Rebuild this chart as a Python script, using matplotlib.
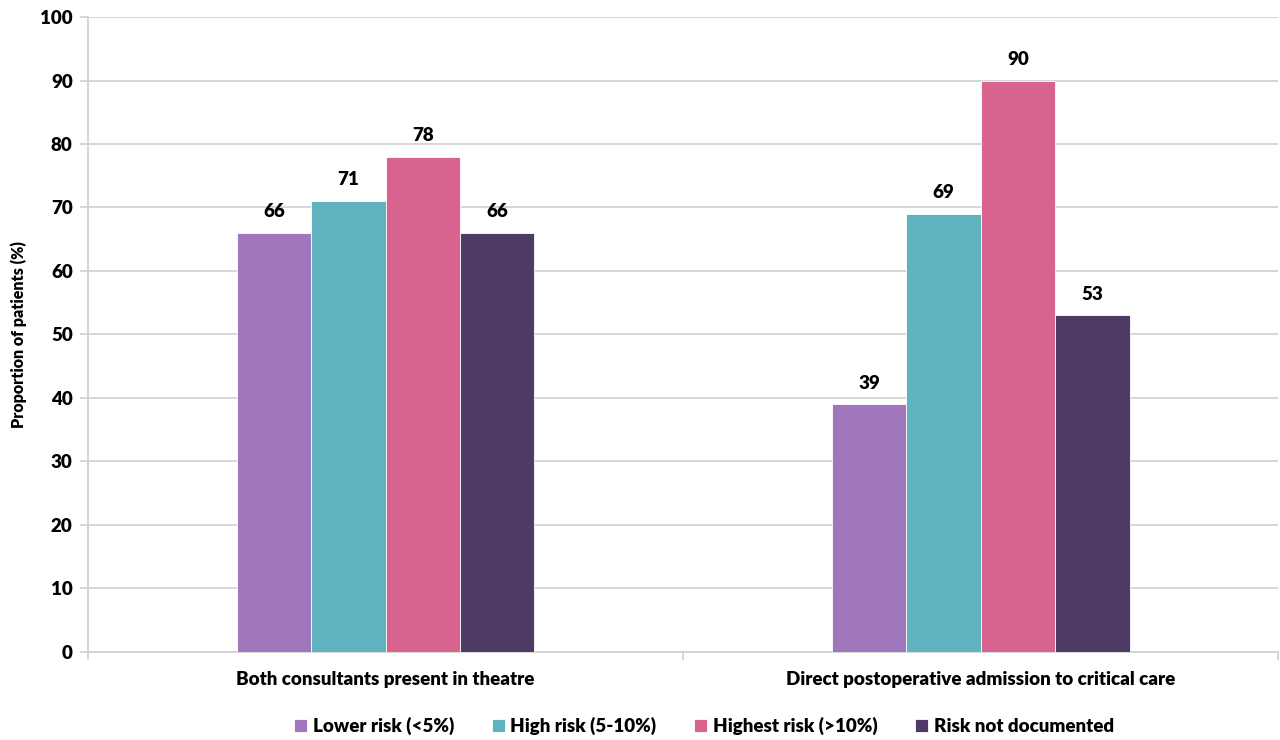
import numpy as np
from matplotlib import pyplot as plt

categories = ['Both consultants present in theatre',
              'Direct postoperative admission to critical care']
series_names = ['Lower risk (<5%)', 'High risk (5-10%)',
                'Highest risk (>10%)', 'Risk not documented']
lower_risk = [66, 39]
high_risk = [71, 69]
highest_risk = [78, 90]
not_documented = [66, 53]

COLORS = ['#a077bd', '#61b2bf', '#d7638e', '#4e3b65']
GRID = '#d0d0d0'

plt.rcParams.update({'font.family': ['Lato', 'DejaVu Sans'],
                     'font.weight': 'heavy'})

fig = plt.figure(figsize=(12.8, 7.4), dpi=100)
ax = fig.add_axes([0.06875, 0.119, 0.93, 0.858])

x = np.arange(len(categories))
width = 0.125
series = [lower_risk, high_risk, highest_risk, not_documented]
for i, vals in enumerate(series):
    pos = x + (i - 1.5) * width
    bars = ax.bar(pos, vals, width, color=COLORS[i], edgecolor='white',
                  linewidth=0.6, label=series_names[i], zorder=3)
    for b, v in zip(bars, vals):
        ax.text(b.get_x() + b.get_width() / 2, v + 2.0, f'{v}',
                ha='center', va='bottom', fontsize=13.5, fontweight='heavy')

ax.set_xlim(-0.5, 1.5)
ax.set_ylim(0, 100)
ax.set_yticks(range(0, 101, 10))
ax.yaxis.grid(True, color=GRID, linewidth=1.2, zorder=0)
ax.tick_params(axis='y', length=6, width=1.2, color=GRID, labelsize=13.5, pad=5)

# category labels between boundary ticks
ax.set_xticks([-0.5, 0.5, 1.5])
ax.set_xticklabels([])
ax.set_xticks(x, minor=True)
ax.set_xticklabels(categories, minor=True, fontsize=13.5, fontweight='heavy')
ax.tick_params(axis='x', which='major', length=6, width=1.2, color=GRID)
ax.tick_params(axis='x', which='minor', length=0, pad=14)

for spine in ['right', 'top']:
    ax.spines[spine].set_visible(False)
for spine in ['left', 'bottom']:
    ax.spines[spine].set_color(GRID)
    ax.spines[spine].set_linewidth(1.2)

ax.set_ylabel('Proportion of patients (%)', fontsize=11.5, fontweight='heavy', labelpad=9.5)

fig.legend(loc='lower center', bbox_to_anchor=(0.55, -0.016), ncol=4,
           frameon=False, fontsize=13.5, handlelength=0.7, handleheight=0.7,
           handletextpad=0.3, columnspacing=2.0)

plt.savefig('out.png', dpi=100)
